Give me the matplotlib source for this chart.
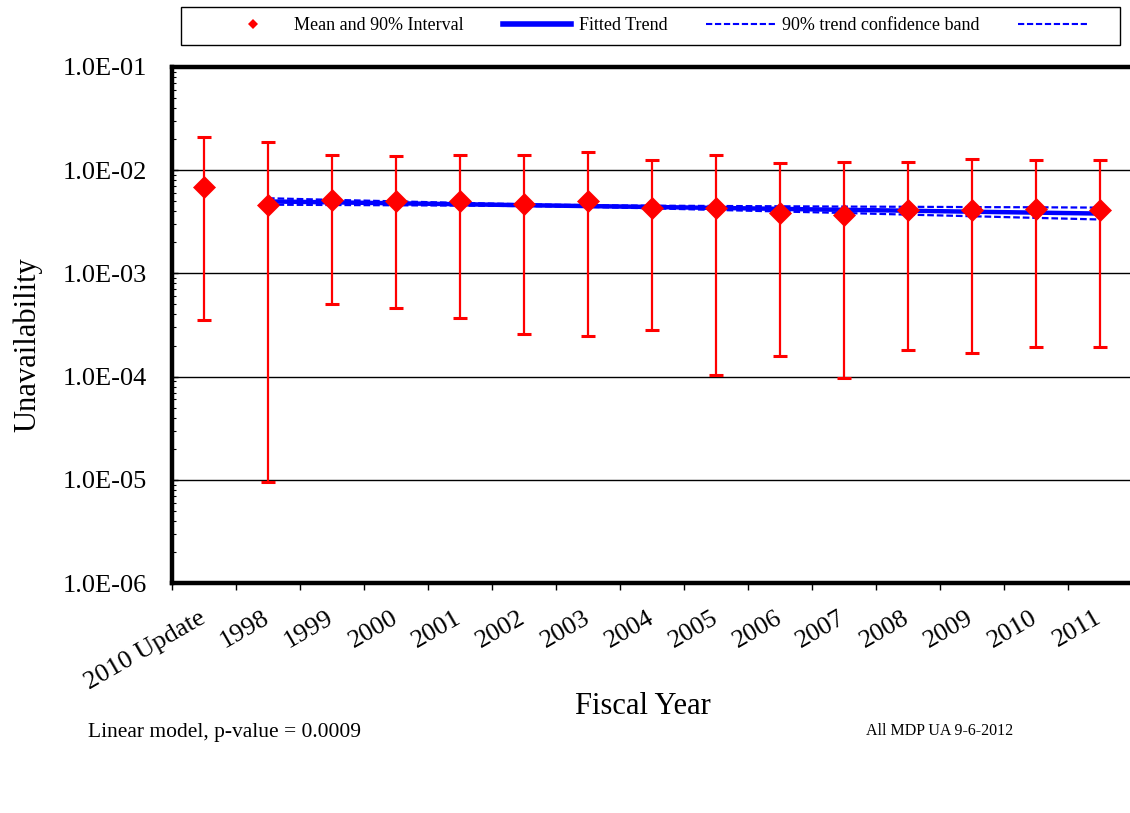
import matplotlib
matplotlib.use('Agg')
import matplotlib.pyplot as plt
from matplotlib.lines import Line2D
from matplotlib.patches import Rectangle
from matplotlib.ticker import FixedLocator, LogLocator, NullFormatter, FuncFormatter

plt.rcParams['font.family'] = ['Liberation Serif', 'DejaVu Serif']

# Unavailability per fiscal year: mean with 5%/95% bounds
years = ['2010 Update', '1998', '1999', '2000', '2001', '2002', '2003', '2004',
         '2005', '2006', '2007', '2008', '2009', '2010', '2011']
mean = [6.8e-3, 4.6e-3, 5.15e-3, 5.0e-3, 5.0e-3, 4.7e-3, 5.0e-3, 4.28e-3,
        4.28e-3, 3.82e-3, 3.68e-3, 4.11e-3, 4.11e-3, 4.18e-3, 4.11e-3]
lower = [3.56e-4, 9.5e-6, 5.0e-4, 4.58e-4, 3.67e-4, 2.59e-4, 2.46e-4, 2.83e-4,
         1.03e-4, 1.60e-4, 9.8e-5, 1.80e-4, 1.69e-4, 1.95e-4, 1.95e-4]
upper = [2.11e-2, 1.86e-2, 1.40e-2, 1.37e-2, 1.40e-2, 1.40e-2, 1.51e-2, 1.25e-2,
         1.40e-2, 1.18e-2, 1.21e-2, 1.21e-2, 1.28e-2, 1.25e-2, 1.25e-2]

# Fitted trend (1998-2011) and its 90% confidence band
trend = [4.98e-3, 4.88e-3, 4.78e-3, 4.68e-3, 4.58e-3, 4.49e-3, 4.40e-3,
         4.31e-3, 4.22e-3, 4.13e-3, 4.05e-3, 3.96e-3, 3.88e-3, 3.80e-3]
band_hi = [5.35e-3, 5.16e-3, 4.99e-3, 4.82e-3, 4.68e-3, 4.58e-3, 4.53e-3,
           4.50e-3, 4.47e-3, 4.44e-3, 4.42e-3, 4.39e-3, 4.37e-3, 4.34e-3]
band_lo = [4.63e-3, 4.60e-3, 4.57e-3, 4.54e-3, 4.49e-3, 4.40e-3, 4.27e-3,
           4.12e-3, 3.98e-3, 3.85e-3, 3.71e-3, 3.58e-3, 3.45e-3, 3.33e-3]

x = list(range(len(years)))
xt = x[1:]

W, H = 1130, 813
fig = plt.figure(figsize=(W / 100, H / 100), dpi=100)
ax = fig.add_axes([0.1522, 0.2829, 0.8496, 0.6347])
ax.set_yscale('log')
ax.set_ylim(1e-6, 1e-1)
ax.set_xlim(-0.5, len(years) - 0.5)

# trend line and band
ax.plot(xt, trend, color='#0000ff', lw=3.2, zorder=3)
ax.plot(xt, band_hi, color='#0000ff', lw=1.6, dashes=(3, 1.3), zorder=3)
ax.plot(xt, band_lo, color='#0000ff', lw=1.6, dashes=(3, 1.3), zorder=3)

# means with 90% intervals
yerr = [[m - lo for m, lo in zip(mean, lower)],
        [hi - m for m, hi in zip(mean, upper)]]
ax.errorbar(x, mean, yerr=yerr, fmt='none', ecolor='#ff0000',
            elinewidth=1.6, capsize=5, capthick=2.2, zorder=4)
ax.plot(x, mean, ls='none', marker='D', ms=11, color='#ff0000',
        markeredgecolor='#ff0000', mew=0.5, zorder=5)

# axes frame and grid
for s in ax.spines.values():
    s.set_linewidth(3.2)
ax.grid(axis='y', which='major', color='black', lw=1.0)
ax.set_axisbelow(True)

ax.set_yticks([1e-6, 1e-5, 1e-4, 1e-3, 1e-2, 1e-1])
ax.yaxis.set_major_formatter(FuncFormatter(lambda v, _: f'{v:.1E}'))
ax.yaxis.set_minor_locator(LogLocator(base=10, subs=range(2, 10)))
ax.yaxis.set_minor_formatter(NullFormatter())
ax.tick_params(axis='y', which='major', direction='in', length=4, width=1,
               labelsize=19, pad=18)
ax.tick_params(axis='y', which='minor', direction='in', length=3, width=0.8)

ax.set_xticks(x)
ax.set_xticklabels(years, rotation=30, ha='right', va='center',
                   rotation_mode='anchor', fontsize=19)
ax.xaxis.set_minor_locator(FixedLocator([i - 0.5 for i in range(len(years) + 1)]))
ax.tick_params(axis='x', which='major', length=0, pad=24)
ax.tick_params(axis='x', which='minor', direction='out', length=5, width=1)

ax.set_ylabel('Unavailability', fontsize=22)
ax.yaxis.set_label_coords(-0.135, 0.461)
ax.set_xlabel('Fiscal Year', fontsize=22)
ax.xaxis.set_label_coords(0.4906, -0.211)

# legend row across the top, framed separately
handles = [
    Line2D([], [], ls='none', marker='D', color='#ff0000', ms=5, mew=0),
    Line2D([], [], color='#0000ff', lw=4),
    Line2D([], [], color='#0000ff', lw=1.5, dashes=(3, 1.3)),
    Line2D([], [], color='#0000ff', lw=1.5, dashes=(3, 1.3)),
]
labels = ['Mean and 90% Interval', 'Fitted Trend', '90% trend confidence band', ' ']
fig.legend(handles, labels, loc='center', ncol=4, mode='expand',
           bbox_to_anchor=(211 / W, 1 - 45 / H, (1106 - 211) / W, 38 / H),
           fontsize=13, handlelength=3.8, handletextpad=0.4,
           borderaxespad=0, frameon=False)
fig.patches.append(Rectangle((181 / W, 1 - 45 / H), (1120 - 181) / W, 38 / H,
                             transform=fig.transFigure, fill=False,
                             edgecolor='black', lw=1.0))

fig.text(88 / W, 1 - 732 / H, 'Linear model, p-value = 0.0009',
         fontsize=15.5, ha='left', va='center')
fig.text(866 / W, 1 - 731 / H, 'All MDP UA 9-6-2012',
         fontsize=11.5, ha='left', va='center')

fig.savefig('out.png', dpi=100, facecolor='white')
plt.close(fig)
